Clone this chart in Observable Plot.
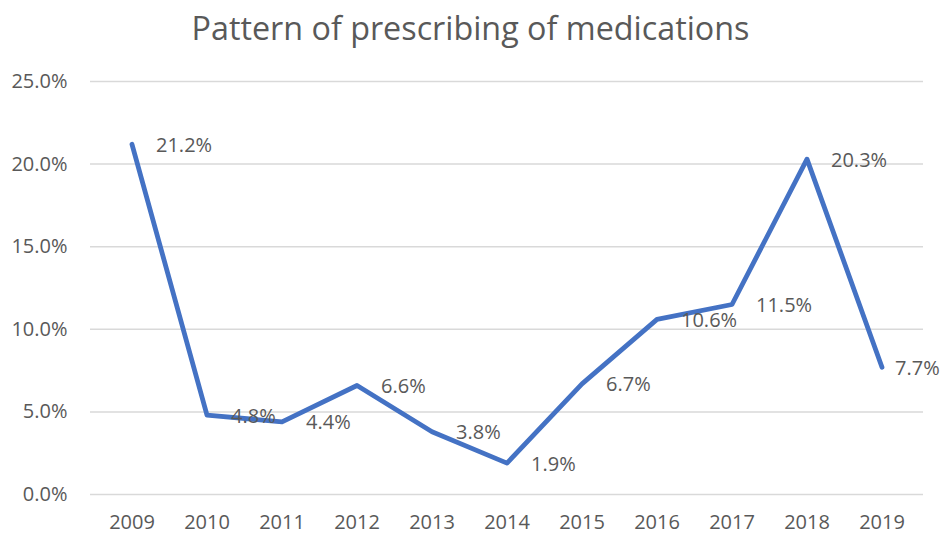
<!DOCTYPE html>
<html>
<head>
<meta charset="utf-8">
<script src="https://cdn.jsdelivr.net/npm/d3@7"></script>
<script src="https://cdn.jsdelivr.net/npm/@observablehq/plot@0.6"></script>
<style>
  body { margin: 0; background: #fff; font-family: "Open Sans", sans-serif; }
  #title { height: 58px; line-height: 54px; text-align: center; font-size: 32.3px; color: #595959; }
</style>
</head>
<body>
<div id="title">Pattern of prescribing of medications</div>
<div id="chart"></div>
<script>
// Share of prescriptions per year (%)
const years = ["2009", "2010", "2011", "2012", "2013", "2014", "2015", "2016", "2017", "2018", "2019"];
const shares = [21.2, 4.8, 4.4, 6.6, 3.8, 1.9, 6.7, 10.6, 11.5, 20.3, 7.7];
const yTicks = [0, 5, 10, 15, 20, 25];

const data = years.map((year, i) => ({year, share: shares[i]}));
const lastIndex = data.length - 1;
const fmt = v => v.toFixed(1) + "%";

const chart = Plot.plot({
  width: 941,
  height: 479,
  marginTop: 23,
  marginBottom: 43,
  marginLeft: 90,
  marginRight: 18,
  style: {fontFamily: "Open Sans, sans-serif", fontSize: "20px", color: "#595959", background: "#fff"},
  x: {type: "band", domain: years, padding: 0, label: null},
  y: {domain: [0, 25], ticks: yTicks, label: null},
  marks: [
    Plot.ruleY(yTicks, {stroke: "#d9d9d9", strokeWidth: 1.5}),
    Plot.axisY({ticks: yTicks, tickSize: 0, tickPadding: 23, tickFormat: fmt, label: null, fontSize: 20}),
    Plot.axisX({tickSize: 0, tickPadding: 20, label: null, fontSize: 20}),
    Plot.line(data, {x: "year", y: "share", stroke: "#4472C4", strokeWidth: 4.8, strokeLinejoin: "round"}),
    Plot.text(data.filter((d, i) => i < lastIndex), {
      x: "year", y: "share", text: d => fmt(d.share),
      textAnchor: "start", dx: 24, dy: 1, fill: "#595959", fontSize: 20
    }),
    Plot.text(data.filter((d, i) => i === lastIndex), {
      x: "year", y: "share", text: d => fmt(d.share),
      textAnchor: "start", dx: 13, dy: 1, fill: "#595959", fontSize: 20
    })
  ]
});
document.getElementById("chart").appendChild(chart);
</script>
</body>
</html>
